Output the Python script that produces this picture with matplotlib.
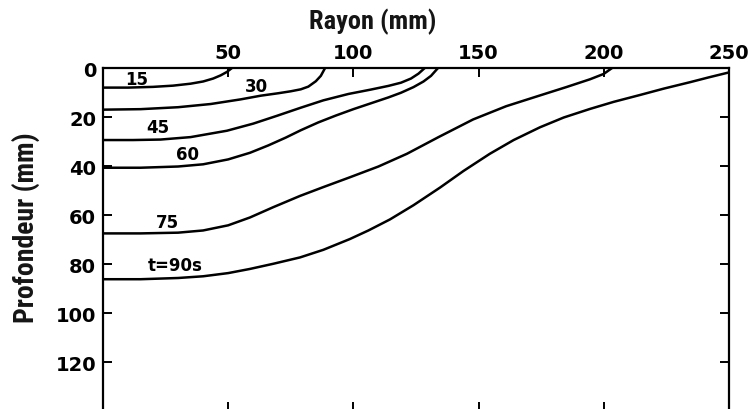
import numpy as np
import matplotlib
matplotlib.use("Agg")
import matplotlib.pyplot as plt

# iso-contours of the front (x = rayon mm, y = profondeur mm)
x15 = [0, 10, 20, 28, 35, 40, 44, 47, 49.5, 51.5]
y15 = [8.0, 8.0, 7.7, 7.2, 6.4, 5.5, 4.3, 3.0, 1.6, 0]

x30 = [0, 15, 30, 43, 55, 63, 70, 75, 79, 82, 85, 87, 88.7]
y30 = [17.0, 16.8, 16.0, 14.7, 12.8, 11.3, 10.3, 9.5, 8.7, 7.6, 5.4, 3.2, 0]

x45 = [0, 12, 23, 35, 49.5, 60, 69.5, 79, 88, 98, 107, 114, 119, 123, 126, 128.5]
y45 = [29.4, 29.4, 29.2, 28.2, 25.6, 22.7, 19.5, 16.2, 13.2, 10.6, 8.8, 7.3, 6.0, 4.3, 2.3, 0]

x60 = [0, 15, 30, 40, 50, 58.7, 66, 73, 79, 86, 93, 100, 107, 114, 119, 124, 128, 131, 133.8]
y60 = [40.7, 40.7, 40.2, 39.3, 37.3, 34.6, 31.6, 28.4, 25.4, 22.2, 19.4, 16.8, 14.4, 12.0, 10.1, 7.8, 5.5, 3.2, 0]

x75 = [0, 15, 30, 40, 50, 58.7, 68, 78.7, 88, 98.6, 110, 121.4, 134, 147.8, 161, 174.5, 185, 194.5, 200, 203.3]
y75 = [67.5, 67.5, 67.2, 66.3, 64.2, 61.0, 56.8, 52.2, 48.6, 44.6, 40.2, 35.0, 28.2, 21.0, 15.6, 11.2, 7.8, 4.6, 2.4, 0]

x90 = [0, 15, 30, 40, 50, 58.7, 68, 78.7, 88, 98.6, 106, 114.6, 124, 134.6, 144, 154.5,
       164, 174.5, 184, 194.5, 204, 214.5, 224, 234.4, 242, 250]
y90 = [86.2, 86.2, 85.7, 85.0, 83.7, 82.0, 79.9, 77.3, 74.2, 69.8, 66.3, 61.8, 56.0, 48.8, 42.0, 35.0,
       29.4, 24.2, 20.2, 16.7, 13.8, 11.0, 8.4, 5.8, 3.8, 1.8]

curve_labels = ["15", "30", "45", "60", "75", "t=90s"]
label_x = [13.4, 61.1, 21.8, 33.7, 25.6, 28.8]
label_y = [4.3, 7.3, 24.2, 35.1, 62.7, 80.4]

xticks = [50, 100, 150, 200, 250]
yticks = [0, 20, 40, 60, 80, 100, 120]

fig = plt.figure(figsize=(7.5, 4.1), dpi=100)
ax = fig.add_axes([0.1373, -0.005, 0.8347, 0.8367])

for xs, ys in [(x15, y15), (x30, y30), (x45, y45), (x60, y60), (x75, y75), (x90, y90)]:
    ax.plot(xs, ys, color="black", lw=1.8, solid_capstyle="round", solid_joinstyle="round")

for txt, lx, ly in zip(curve_labels, label_x, label_y):
    ax.text(lx, ly, txt, ha="center", va="center", fontsize=12, fontweight="bold")

ax.set_xlim(0, 250)
ax.set_ylim(140, 0)
ax.set_xticks(xticks)
ax.set_yticks(yticks)

for s in ax.spines.values():
    s.set_linewidth(1.6)

ax.tick_params(axis="both", direction="in", length=6.5, width=1.4,
               top=True, bottom=True, left=True, right=True,
               labeltop=True, labelbottom=False, labelsize=14)
ax.tick_params(axis="x", pad=4)
ax.tick_params(axis="y", pad=5)
for lab in ax.get_xticklabels() + ax.get_yticklabels():
    lab.set_fontweight("bold")

fig.text(0.497, 0.947, "Rayon (mm)", ha="center", va="center", fontsize=19,
         fontweight="bold", color="#151515",
         family=["Roboto Condensed", "DejaVu Sans"], fontstretch="condensed")
fig.text(0.034, 0.444, "Profondeur (mm)", ha="center", va="center", rotation=90,
         fontsize=20, fontweight="bold", color="#151515",
         family=["Roboto Condensed", "DejaVu Sans"], fontstretch="condensed")

fig.savefig("out.png", dpi=100)
